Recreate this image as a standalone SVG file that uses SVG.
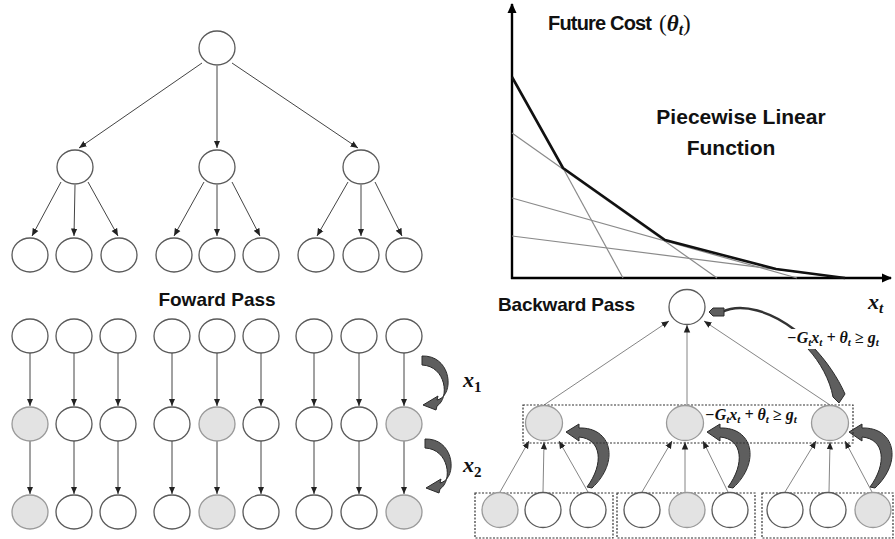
<svg xmlns="http://www.w3.org/2000/svg" width="895" height="539" viewBox="0 0 895 539">
<style>
.node{fill:#fff;stroke:#5a5a5a;stroke-width:1.3}
.shaded{fill:#e3e3e3;stroke:#9a9a9a;stroke-width:1.3}
.edge{stroke:#444;stroke-width:1;fill:none;marker-end:url(#ah)}
.thin{stroke:#777;stroke-width:0.9;fill:none;marker-end:url(#ah)}
.box{fill:none;stroke:#333;stroke-width:1.2;stroke-dasharray:2 1.5}
.curv{fill:#5e5e5e;stroke:#2a2a2a;stroke-width:1}
.lbl{font-family:"Liberation Sans",Arial,sans-serif;font-weight:bold;fill:#111}
.math{font-family:"Liberation Serif","Times New Roman",serif;font-style:italic;font-weight:bold;fill:#111}
.axis{stroke:#000;stroke-width:2.4;fill:none;marker-end:url(#axh)}
.cut{stroke:#8a8a8a;stroke-width:1.2;fill:none}
</style>
<defs>
<marker id="ah" viewBox="0 0 8 8" refX="8" refY="4" markerWidth="7.5" markerHeight="7.5" markerUnits="userSpaceOnUse" orient="auto"><path d="M0,0.6 L8,4 L0,7.4 Z" fill="#222"/></marker>
<marker id="axh" viewBox="0 0 10 10" refX="9" refY="5" markerWidth="10" markerHeight="10" markerUnits="userSpaceOnUse" orient="auto"><path d="M0,0.5 L10,5 L0,9.5 Z" fill="#000"/></marker>
<path id="fcurve" d="M422 356 C452 355 455 396 437 400 L438 396 L423 405 L436 410 L437 406 C450 398 446 366 422 365 Z"/>
<path id="bcurve" d="M566 432 L579 424 L579 428 C612 427 620 462 592 488 L587 487 C604 464 602 439 579 437 L579 441 Z"/>
</defs>
<rect width="895" height="539" fill="#fff"/>

<!-- connectors -->
<g id="connectors">
  <!-- top-left tree -->
  <line class="edge" x1="202" y1="63" x2="79" y2="148"/>
  <line class="edge" x1="217" y1="66" x2="217" y2="148"/>
  <line class="edge" x1="232" y1="63" x2="358" y2="148"/>
  <line class="edge" x1="61" y1="182" x2="32" y2="236"/>
  <line class="edge" x1="75" y1="185" x2="74" y2="236"/>
  <line class="edge" x1="88" y1="182" x2="118" y2="236"/>
  <line class="edge" x1="204" y1="182" x2="174" y2="236"/>
  <line class="edge" x1="217" y1="185" x2="217" y2="236"/>
  <line class="edge" x1="232" y1="182" x2="260" y2="236"/>
  <line class="edge" x1="348" y1="182" x2="317" y2="236"/>
  <line class="edge" x1="361" y1="185" x2="361" y2="236"/>
  <line class="edge" x1="375" y1="182" x2="402" y2="236"/>
  <!-- forward pass verticals -->
  <g class="fwd">
    <line class="edge" x1="30" y1="353" x2="30" y2="406"/>
    <line class="edge" x1="74" y1="353" x2="74" y2="406"/>
    <line class="edge" x1="118" y1="353" x2="118" y2="406"/>
    <line class="edge" x1="172" y1="353" x2="172" y2="406"/>
    <line class="edge" x1="217" y1="353" x2="217" y2="406"/>
    <line class="edge" x1="261" y1="353" x2="261" y2="406"/>
    <line class="edge" x1="314" y1="353" x2="314" y2="406"/>
    <line class="edge" x1="359" y1="353" x2="359" y2="406"/>
    <line class="edge" x1="404" y1="353" x2="404" y2="406"/>
    <line class="edge" x1="30" y1="441" x2="30" y2="494"/>
    <line class="edge" x1="74" y1="441" x2="74" y2="494"/>
    <line class="edge" x1="118" y1="441" x2="118" y2="494"/>
    <line class="edge" x1="172" y1="441" x2="172" y2="494"/>
    <line class="edge" x1="217" y1="441" x2="217" y2="494"/>
    <line class="edge" x1="261" y1="441" x2="261" y2="494"/>
    <line class="edge" x1="314" y1="441" x2="314" y2="494"/>
    <line class="edge" x1="359" y1="441" x2="359" y2="494"/>
    <line class="edge" x1="404" y1="441" x2="404" y2="494"/>
  </g>
  <!-- backward pass -->
  <line class="thin" x1="544" y1="405" x2="669" y2="321"/>
  <line class="thin" x1="687" y1="405" x2="687" y2="325"/>
  <line class="thin" x1="830" y1="405" x2="704" y2="321"/>
  <line class="thin" x1="500" y1="492" x2="529" y2="441"/>
  <line class="thin" x1="543" y1="492" x2="544" y2="442"/>
  <line class="thin" x1="588" y1="492" x2="559" y2="441"/>
  <line class="thin" x1="642" y1="492" x2="672" y2="441"/>
  <line class="thin" x1="685" y1="492" x2="685" y2="442"/>
  <line class="thin" x1="728" y1="492" x2="703" y2="441"/>
  <line class="thin" x1="785" y1="492" x2="816" y2="441"/>
  <line class="thin" x1="829" y1="492" x2="830" y2="442"/>
  <line class="thin" x1="872" y1="492" x2="845" y2="441"/>
  <!-- thick curved arrows -->
  <use href="#fcurve" class="curv"/>
  <use href="#fcurve" class="curv" transform="translate(3,83)"/>
  <use href="#bcurve" class="curv"/>
  <use href="#bcurve" class="curv" transform="translate(141,0)"/>
  <use href="#bcurve" class="curv" transform="translate(283,0)"/>
  <path d="M722 312 C742 302 772 312 795 330 C812 344 826 362 836 390" fill="none" stroke="#333" stroke-width="2.4"/>
  <path class="curv" d="M812 346 C826 360 838 378 845 394 L839 403 L833 397 C830 380 820 362 808 349 Z"/>
  <path class="curv" d="M709 312 L713 308 L724 308 L724 316 L713 316 Z"/>
</g>

<!-- chart -->
<g id="chart">
  <line class="axis" x1="512" y1="279" x2="512" y2="4"/>
  <line class="axis" x1="511" y1="278" x2="891" y2="278"/>
  <line class="cut" x1="563" y1="168" x2="623" y2="278"/>
  <line class="cut" x1="512" y1="133" x2="717" y2="278"/>
  <line class="cut" x1="512" y1="198" x2="797" y2="278"/>
  <line class="cut" x1="512" y1="236" x2="845" y2="278"/>
  <polyline points="512,77 563,168 665,240 776,269 845,278" fill="none" stroke="#111" stroke-width="2.6" stroke-linejoin="round"/>
  <text class="lbl" x="548" y="30" font-size="20" textLength="104">Future Cost</text>
  <text class="math" x="659" y="31" font-size="23"><tspan font-style="normal" font-weight="normal">(</tspan>θ<tspan font-size="16" dy="4">t</tspan><tspan dy="-4" font-style="normal" font-weight="normal">)</tspan></text>
  <text class="lbl" x="741" y="124" font-size="21" text-anchor="middle">Piecewise Linear</text>
  <text class="lbl" x="731" y="155" font-size="21" text-anchor="middle">Function</text>
  <text class="math" x="868" y="309" font-size="22">x<tspan font-size="15" dy="4">t</tspan></text>
</g>

<!-- labels -->
<text class="lbl" x="217" y="306" font-size="19" text-anchor="middle">Foward Pass</text>
<text class="lbl" x="498" y="311" font-size="19" textLength="137">Backward Pass</text>
<text class="math" x="463" y="387" font-size="22">x<tspan font-size="15" dy="5" font-style="normal">1</tspan></text>
<text class="math" x="463" y="472" font-size="22">x<tspan font-size="15" dy="5" font-style="normal">2</tspan></text>
<rect x="785" y="329" width="100" height="20" fill="#fff"/>
<text class="math" x="787" y="343" font-size="16">−G<tspan font-size="11" dy="3">t</tspan><tspan dy="-3">x</tspan><tspan font-size="11" dy="3">t</tspan><tspan dy="-3"> + θ</tspan><tspan font-size="11" dy="3">t</tspan><tspan dy="-3"> ≥ g</tspan><tspan font-size="11" dy="3">t</tspan></text>
<text class="math" x="705" y="420" font-size="16">−G<tspan font-size="11" dy="3">t</tspan><tspan dy="-3">x</tspan><tspan font-size="11" dy="3">t</tspan><tspan dy="-3"> + θ</tspan><tspan font-size="11" dy="3">t</tspan><tspan dy="-3"> ≥ g</tspan><tspan font-size="11" dy="3">t</tspan></text>

<!-- dotted boxes -->
<rect class="box" x="523" y="405" width="330" height="38"/>
<rect class="box" x="475" y="493" width="138" height="45"/>
<rect class="box" x="617" y="493" width="138" height="45"/>
<rect class="box" x="762" y="493" width="131" height="45"/>

<!-- tree nodes -->
<g id="t-root"><ellipse class="node" cx="217" cy="48" rx="18" ry="17"/></g>
<g id="t-a"><ellipse class="node" cx="75" cy="167" rx="18" ry="17"/></g>
<g id="t-b"><ellipse class="node" cx="217" cy="167" rx="18" ry="17"/></g>
<g id="t-c"><ellipse class="node" cx="361" cy="167" rx="18" ry="17"/></g>
<g id="t-a1"><ellipse class="node" cx="30" cy="255" rx="18" ry="17"/></g>
<g id="t-a2"><ellipse class="node" cx="74" cy="255" rx="18" ry="17"/></g>
<g id="t-a3"><ellipse class="node" cx="119" cy="255" rx="18" ry="17"/></g>
<g id="t-b1"><ellipse class="node" cx="174" cy="255" rx="18" ry="17"/></g>
<g id="t-b2"><ellipse class="node" cx="217" cy="255" rx="18" ry="17"/></g>
<g id="t-b3"><ellipse class="node" cx="261" cy="255" rx="18" ry="17"/></g>
<g id="t-c1"><ellipse class="node" cx="316" cy="255" rx="18" ry="17"/></g>
<g id="t-c2"><ellipse class="node" cx="361" cy="255" rx="18" ry="17"/></g>
<g id="t-c3"><ellipse class="node" cx="404" cy="255" rx="18" ry="17"/></g>

<!-- forward nodes -->
<g id="f1-1"><ellipse class="node" cx="30" cy="336" rx="18" ry="17"/></g>
<g id="f1-2"><ellipse class="node" cx="74" cy="336" rx="18" ry="17"/></g>
<g id="f1-3"><ellipse class="node" cx="118" cy="336" rx="18" ry="17"/></g>
<g id="f1-4"><ellipse class="node" cx="172" cy="336" rx="18" ry="17"/></g>
<g id="f1-5"><ellipse class="node" cx="217" cy="336" rx="18" ry="17"/></g>
<g id="f1-6"><ellipse class="node" cx="261" cy="336" rx="18" ry="17"/></g>
<g id="f1-7"><ellipse class="node" cx="314" cy="336" rx="18" ry="17"/></g>
<g id="f1-8"><ellipse class="node" cx="359" cy="336" rx="18" ry="17"/></g>
<g id="f1-9"><ellipse class="node" cx="404" cy="336" rx="18" ry="17"/></g>
<g id="f2-1"><ellipse class="shaded" cx="30" cy="424" rx="18" ry="17"/></g>
<g id="f2-2"><ellipse class="node" cx="74" cy="424" rx="18" ry="17"/></g>
<g id="f2-3"><ellipse class="node" cx="118" cy="424" rx="18" ry="17"/></g>
<g id="f2-4"><ellipse class="node" cx="172" cy="424" rx="18" ry="17"/></g>
<g id="f2-5"><ellipse class="shaded" cx="217" cy="424" rx="18" ry="17"/></g>
<g id="f2-6"><ellipse class="node" cx="261" cy="424" rx="18" ry="17"/></g>
<g id="f2-7"><ellipse class="node" cx="314" cy="424" rx="18" ry="17"/></g>
<g id="f2-8"><ellipse class="node" cx="359" cy="424" rx="18" ry="17"/></g>
<g id="f2-9"><ellipse class="shaded" cx="404" cy="424" rx="18" ry="17"/></g>
<g id="f3-1"><ellipse class="shaded" cx="30" cy="512" rx="18" ry="17"/></g>
<g id="f3-2"><ellipse class="node" cx="74" cy="512" rx="18" ry="17"/></g>
<g id="f3-3"><ellipse class="node" cx="118" cy="512" rx="18" ry="17"/></g>
<g id="f3-4"><ellipse class="node" cx="172" cy="512" rx="18" ry="17"/></g>
<g id="f3-5"><ellipse class="shaded" cx="217" cy="512" rx="18" ry="17"/></g>
<g id="f3-6"><ellipse class="node" cx="261" cy="512" rx="18" ry="17"/></g>
<g id="f3-7"><ellipse class="node" cx="314" cy="512" rx="18" ry="17"/></g>
<g id="f3-8"><ellipse class="node" cx="359" cy="512" rx="18" ry="17"/></g>
<g id="f3-9"><ellipse class="shaded" cx="404" cy="512" rx="18" ry="17"/></g>

<!-- backward nodes -->
<g id="b-root"><ellipse class="node" cx="687" cy="307" rx="18" ry="17.5"/></g>
<g id="b-m1"><ellipse class="shaded" cx="544" cy="423" rx="18.5" ry="17.5"/></g>
<g id="b-m2"><ellipse class="shaded" cx="685" cy="423" rx="18.5" ry="17.5"/></g>
<g id="b-m3"><ellipse class="shaded" cx="830" cy="423" rx="18.5" ry="17.5"/></g>
<g id="b-l1"><ellipse class="shaded" cx="500" cy="510" rx="18" ry="17.5"/></g>
<g id="b-l2"><ellipse class="node" cx="543" cy="510" rx="18" ry="17.5"/></g>
<g id="b-l3"><ellipse class="node" cx="588" cy="510" rx="18" ry="17.5"/></g>
<g id="b-l4"><ellipse class="node" cx="642" cy="510" rx="18" ry="17.5"/></g>
<g id="b-l5"><ellipse class="shaded" cx="687" cy="510" rx="18" ry="17.5"/></g>
<g id="b-l6"><ellipse class="node" cx="730" cy="510" rx="18" ry="17.5"/></g>
<g id="b-l7"><ellipse class="node" cx="785" cy="510" rx="18" ry="17.5"/></g>
<g id="b-l8"><ellipse class="node" cx="828" cy="510" rx="18" ry="17.5"/></g>
<g id="b-l9"><ellipse class="shaded" cx="873" cy="510" rx="18" ry="17.5"/></g>
</svg>
